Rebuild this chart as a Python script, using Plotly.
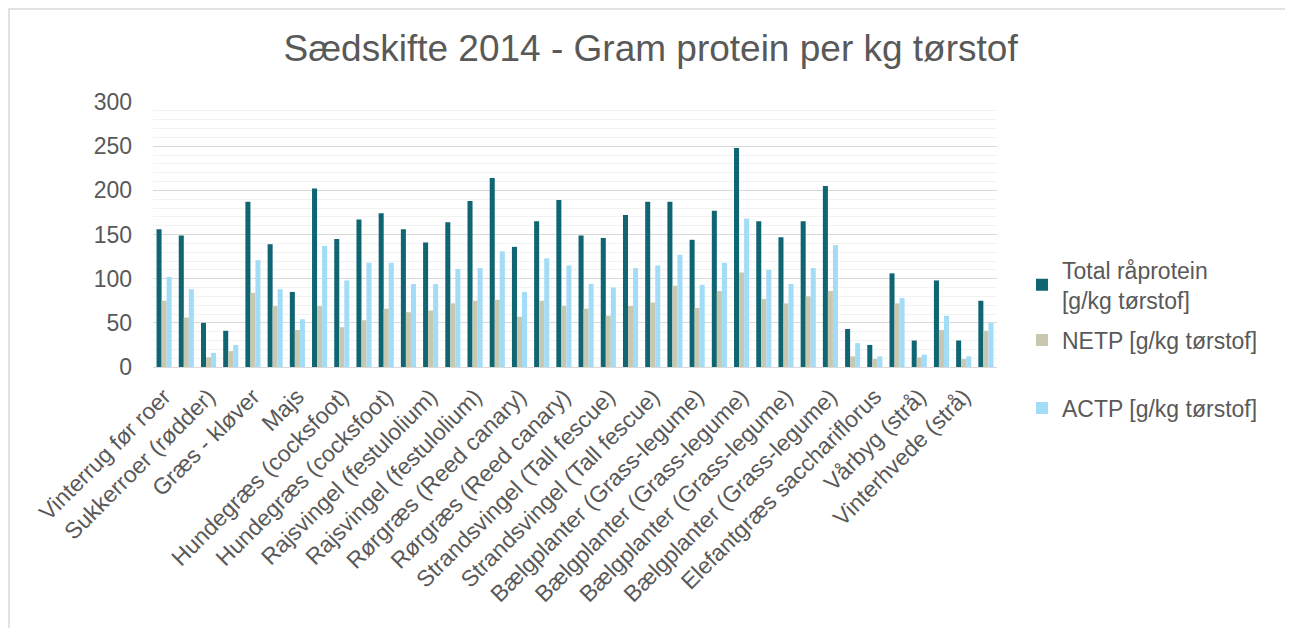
import plotly.graph_objects as go

# every other group gets a label (Excel skipped the rest)
labels = [
    "Vinterrug før roer", "Sukkerroer (rødder)", "Græs - kløver", "Majs",
    "Hundegræs (cocksfoot)", "Hundegræs (cocksfoot)",
    "Rajsvingel (festulolium)", "Rajsvingel (festulolium)",
    "Rørgræs (Reed canary)", "Rørgræs (Reed canary)",
    "Strandsvingel (Tall fescue)", "Strandsvingel (Tall fescue)",
    "Bælgplanter (Grass-legume)", "Bælgplanter (Grass-legume)",
    "Bælgplanter (Grass-legume)", "Bælgplanter (Grass-legume)",
    "Elefantgræs sacchariflorus", "Vårbyg (strå)", "Vinterhvede (strå)",
]

total = [156, 149, 50, 41, 187, 139, 85, 202, 145, 167, 174, 156, 141, 164,
         188, 214, 136, 165, 189, 149, 146, 172, 187, 187, 144, 177, 248, 165,
         147, 165, 205, 43, 25, 106, 30, 98, 30, 75]
netp = [75, 56, 11, 18, 84, 69, 42, 69, 45, 53, 66, 62, 64, 72, 75, 76, 57,
        75, 69, 66, 58, 69, 73, 92, 67, 86, 107, 77, 72, 80, 86, 12, 9, 72,
        11, 42, 9, 41]
actp = [102, 88, 16, 25, 121, 88, 54, 137, 98, 118, 118, 94, 94, 111, 112,
        131, 85, 123, 115, 94, 90, 112, 115, 127, 93, 118, 168, 110, 94, 112,
        138, 27, 12, 78, 14, 58, 12, 50]

x = list(range(len(total)))
tickpos = x[::2]

font_name = "Liberation Sans, Arial, sans-serif"
grey = "#595959"

fig = go.Figure()
fig.add_trace(go.Bar(x=x, y=total, name="Total råprotein<br>[g/kg tørstof]",
                     marker_color="#0f6572", legend="legend"))
fig.add_trace(go.Bar(x=x, y=netp, name="NETP [g/kg tørstof]",
                     marker_color="#c8c8b0", legend="legend2"))
fig.add_trace(go.Bar(x=x, y=actp, name="ACTP [g/kg tørstof]",
                     marker_color="#a2dcf6", legend="legend3"))

fig.update_traces(marker_line_width=0)

leg = dict(x=1.0296, xanchor="left", yanchor="middle",
           font=dict(size=23, color=grey), bgcolor="rgba(0,0,0,0)")

# page body adds an 8px offset, so margins are shifted to compensate
fig.update_layout(
    width=1293, height=628,
    margin=dict(l=145, r=304, t=94, b=269, autoexpand=False),
    paper_bgcolor="white", plot_bgcolor="white",
    font=dict(family=font_name, color=grey, size=23),
    title=dict(text="Sædskifte 2014 - Gram protein per kg tørstof",
               x=0.497, xanchor="center", y=0.936, yanchor="middle",
               font=dict(size=37, color=grey)),
    barmode="group", bargap=0.32, bargroupgap=0,
    legend=dict(leg, y=0.31),
    legend2=dict(leg, y=0.102),
    legend3=dict(leg, y=-0.155),
    showlegend=True,
)

fig.update_yaxes(range=[0, 300], dtick=50, showgrid=True, gridcolor="#d9d9d9",
                 gridwidth=1, zeroline=False, showline=False, automargin=False,
                 ticks="", ticklabelstandoff=20,
                 tickfont=dict(size=23, color=grey),
                 minor=dict(dtick=10, showgrid=True, gridcolor="#f2f2f2",
                            gridwidth=1))
fig.update_xaxes(range=[-0.5, len(x) - 0.5], tickmode="array",
                 tickvals=tickpos, ticktext=labels, tickangle=-45,
                 showline=True, linecolor="#d9d9d9", linewidth=1,
                 automargin=False, showgrid=False, ticks="",
                 ticklabelstandoff=6,
                 tickfont=dict(size=23, color=grey))

# light chart border as in the spreadsheet export (plot area spans 153..997 x, 102..367 y on the page)
fig.add_shape(type="rect", xref="paper", yref="paper",
              x0=(9 - 153) / 844, x1=(1290 - 153) / 844,
              y0=(367 - 640) / 265, y1=(367 - 9) / 265,
              line=dict(color="#d9d9d9", width=1.5), fillcolor="rgba(0,0,0,0)",
              layer="below")

fig.write_html("out.html")
